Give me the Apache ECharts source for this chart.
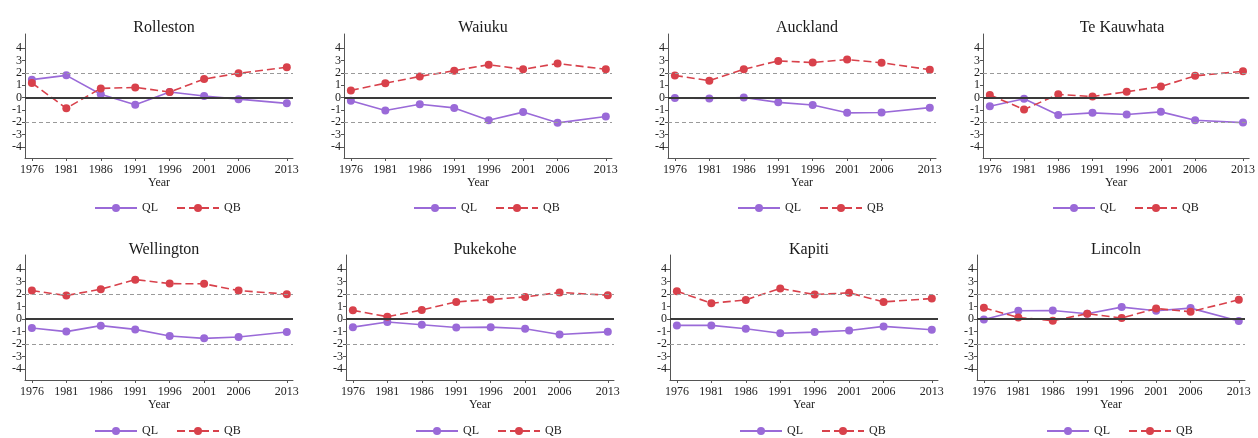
<!DOCTYPE html>
<html><head><meta charset="utf-8">
<script src="https://cdn.jsdelivr.net/npm/echarts@6/dist/echarts.min.js"></script>
<style>html,body{margin:0;padding:0;background:#fff}#c{width:1258px;height:438px}</style>
</head><body><div id="c"></div>
<script>
// ---- data ----
const years = [1976, 1981, 1986, 1991, 1996, 2001, 2006, 2013];
const xTicks = [1976, 1981, 1986, 1991, 1996, 2001, 2006, 2013];
const yTicks = [-4, -3, -2, -1, 0, 1, 2, 3, 4];
const places = ['Rolleston', 'Waiuku', 'Auckland', 'Te Kauwhata', 'Wellington', 'Pukekohe', 'Kapiti', 'Lincoln'];
const seriesNames = ['QL', 'QB'];

const rollestonQL = [1.45, 1.8, 0.27, -0.58, 0.45, 0.13, -0.13, -0.47];
const rollestonQB = [1.18, -0.87, 0.74, 0.82, 0.45, 1.5, 1.97, 2.45];
const waiukuQL = [-0.26, -1.05, -0.55, -0.84, -1.84, -1.18, -2.05, -1.53];
const waiukuQB = [0.58, 1.16, 1.71, 2.18, 2.66, 2.29, 2.76, 2.29];
const aucklandQL = [-0.03, -0.08, 0.0, -0.39, -0.6, -1.24, -1.21, -0.82];
const aucklandQB = [1.79, 1.37, 2.29, 2.97, 2.84, 3.08, 2.82, 2.26];
const teKauwhataQL = [-0.71, -0.1, -1.42, -1.24, -1.37, -1.16, -1.84, -2.03];
const teKauwhataQB = [0.21, -0.97, 0.26, 0.08, 0.47, 0.89, 1.76, 2.13];
const wellingtonQL = [-0.72, -1.01, -0.53, -0.83, -1.36, -1.55, -1.44, -1.04];
const wellingtonQB = [2.29, 1.89, 2.4, 3.17, 2.85, 2.83, 2.29, 2.0];
const pukekoheQL = [-0.65, -0.24, -0.46, -0.68, -0.65, -0.78, -1.24, -1.03];
const pukekoheQB = [0.7, 0.19, 0.73, 1.38, 1.57, 1.78, 2.14, 1.92];
const kapitiQL = [-0.51, -0.51, -0.78, -1.14, -1.05, -0.92, -0.59, -0.86];
const kapitiQB = [2.24, 1.27, 1.54, 2.46, 1.97, 2.11, 1.38, 1.65];
const lincolnQL = [-0.03, 0.67, 0.69, 0.43, 0.96, 0.67, 0.88, -0.16];
const lincolnQB = [0.91, 0.13, -0.13, 0.43, 0.08, 0.85, 0.59, 1.55];

const qlData = [rollestonQL, waiukuQL, aucklandQL, teKauwhataQL, wellingtonQL, pukekoheQL, kapitiQL, lincolnQL];
const qbData = [rollestonQB, waiukuQB, aucklandQB, teKauwhataQB, wellingtonQB, pukekoheQB, kapitiQB, lincolnQB];
const refLevels = [-2, 2];

// ---- layout / style ----
const FONT = '"Liberation Serif", "DejaVu Serif", serif';
const QL_COLOR = '#9a6ad8';
const QB_COLOR = '#d8414b';
const lefts = [25, 344, 668, 983, 25, 346, 670, 977];
const tops = [34, 34, 34, 34, 255, 255, 255, 255];
const heights = [124, 124, 124, 124, 125, 125, 125, 125];
const titleTops = [15, 15, 15, 15, 237, 237, 237, 237];
const legendTops = [197, 197, 197, 197, 420, 420, 420, 420];
const W = 268;

const option = {
  animation: false,
  title: [], grid: [], xAxis: [], yAxis: [], series: [], legend: []
};

places.forEach((name, i) => {
  option.title.push({
    text: name, left: lefts[i] + W / 2, top: titleTops[i], textAlign: 'center',
    textStyle: { fontFamily: FONT, fontSize: 16, fontWeight: 'normal', color: '#1a1a1a' }
  });
  option.grid.push({ left: lefts[i], top: tops[i], width: W, height: heights[i] });
  option.xAxis.push({
    type: 'value', gridIndex: i, min: 1975, max: 2013.9,
    name: 'Year', nameLocation: 'middle', nameGap: 19,
    nameTextStyle: { fontFamily: FONT, fontSize: 12, color: '#222' },
    axisLine: { show: true, onZero: false, lineStyle: { color: '#555', width: 1 } },
    axisTick: { show: true, length: 3, customValues: xTicks, lineStyle: { color: '#555' } },
    axisLabel: { customValues: xTicks, formatter: v => String(v), fontFamily: FONT, fontSize: 12, color: '#222', margin: 6 },
    splitLine: { show: false }
  });
  option.yAxis.push({
    type: 'value', gridIndex: i, min: -4.9, max: 5.15,
    axisLine: { show: true, onZero: false, lineStyle: { color: '#555', width: 1 } },
    axisTick: { show: true, length: 3, customValues: yTicks, lineStyle: { color: '#555' } },
    axisLabel: { customValues: yTicks, formatter: v => String(v), fontFamily: FONT, fontSize: 12, color: '#222', margin: 3 },
    splitLine: { show: false }
  });
  option.series.push({
    name: 'QL', type: 'line', xAxisIndex: i, yAxisIndex: i,
    data: years.map((y, k) => [y, qlData[i][k]]),
    symbol: 'circle', symbolSize: 8, z: 3,
    itemStyle: { color: QL_COLOR },
    lineStyle: { color: QL_COLOR, width: 1.6 },
    markLine: {
      silent: true, symbol: 'none', label: { show: false }, animation: false,
      data: [
        { yAxis: 0, lineStyle: { color: '#3a3a3a', width: 2, type: 'solid' } },
        ...refLevels.map(v => ({ yAxis: v, lineStyle: { color: '#9a9a9a', width: 1.2, type: [4, 3] } }))
      ]
    }
  });
  option.series.push({
    name: 'QB', type: 'line', xAxisIndex: i, yAxisIndex: i,
    data: years.map((y, k) => [y, qbData[i][k]]),
    symbol: 'circle', symbolSize: 8, z: 4,
    itemStyle: { color: QB_COLOR },
    lineStyle: { color: QB_COLOR, width: 1.6, type: [8, 4] }
  });
  option.legend.push({
    data: seriesNames, left: lefts[i] + 64, top: legendTops[i],
    itemWidth: 42, itemHeight: 10, itemGap: 18, selectedMode: false,
    textStyle: { fontFamily: FONT, fontSize: 12, color: '#222' }
  });
});

const chart = echarts.init(document.getElementById('c'), null, { renderer: 'canvas' });
chart.setOption(option);
</script>
</body></html>
